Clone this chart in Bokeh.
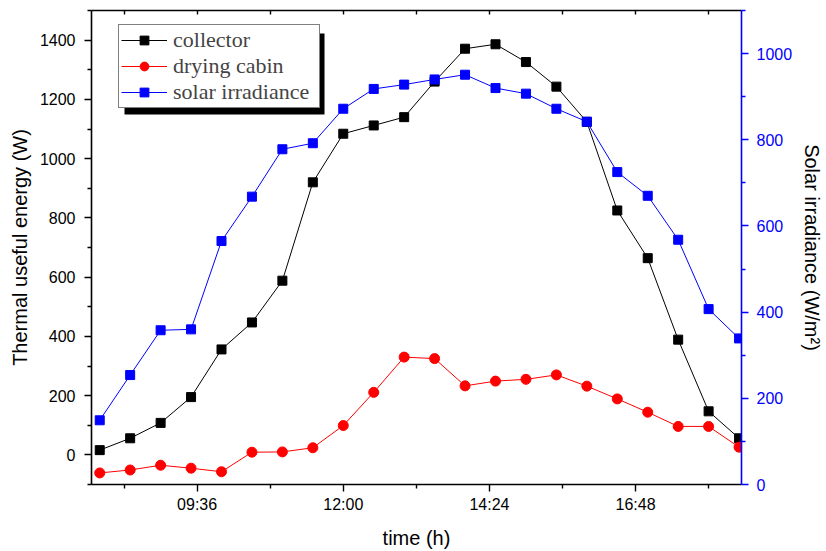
from bokeh.plotting import figure
from bokeh.models import (Range1d, LinearAxis, FixedTicker, Legend, LegendItem,
                          BoxAnnotation, CustomJSTickFormatter)
from bokeh.embed import file_html
from bokeh.resources import INLINE

# ---- data ----
time_h = [8.0, 8.5, 9.0, 9.5, 10.0, 10.5, 11.0, 11.5, 12.0, 12.5, 13.0,
          13.5, 14.0, 14.5, 15.0, 15.5, 16.0, 16.5, 17.0, 17.5, 18.0, 18.5]
collector = [16, 56, 108, 195, 356, 447, 588, 920, 1084, 1112, 1140,
             1260, 1371, 1386, 1326, 1243, 1124, 825, 664, 389, 147, 56]
drying_cabin = [-61, -51, -35, -45, -57, 9, 10, 24, 99, 211, 330,
                325, 233, 249, 255, 270, 232, 189, 144, 96, 96, 26]
solar_irradiance = [149, 254, 358, 360, 565, 668, 778, 792, 872, 918, 928,
                    940, 951, 920, 907, 872, 842, 725, 670, 568, 407, 339]

x_tick_values = [9.6, 12.0, 14.4, 16.8]
x_tick_labels = ["09:36", "12:00", "14:24", "16:48"]
x_minor_ticks = [8.4, 10.8, 13.2, 15.6, 18.0]
left_ticks = [0, 200, 400, 600, 800, 1000, 1200, 1400]
left_minor = [-100, 100, 300, 500, 700, 900, 1100, 1300, 1500]
right_ticks = [0, 200, 400, 600, 800, 1000]
right_minor = [100, 300, 500, 700, 900, 1100]

BLACK, RED, BLUE = "#000000", "#ff0000", "#0000ff"
SANS = "Liberation Sans"
SERIF = "Liberation Serif"

p = figure(width=826, height=551, output_backend="svg", toolbar_location=None,
           x_range=Range1d(7.865, 18.54), y_range=Range1d(-100, 1500),
           min_border_left=91, min_border_right=83, min_border_top=10,
           min_border_bottom=65)
p.extra_y_ranges = {"irr": Range1d(0, 1100)}
p.xgrid.visible = False
p.ygrid.visible = False
p.outline_line_color = None
p.background_fill_color = "white"
p.border_fill_color = "white"

def style_axis(ax, color):
    ax.axis_line_color = color
    ax.axis_line_width = 1.6
    ax.major_tick_line_color = color
    ax.minor_tick_line_color = color
    ax.major_tick_line_width = 1.4
    ax.minor_tick_line_width = 1.4
    ax.major_tick_in = 0
    ax.major_tick_out = 7
    ax.minor_tick_in = 0
    ax.minor_tick_out = 4
    ax.major_label_text_font = SANS
    ax.major_label_text_font_size = "16px"
    ax.major_label_text_color = color
    ax.axis_label_text_font = SANS
    ax.axis_label_text_font_size = "20px"
    ax.axis_label_text_font_style = "normal"
    ax.axis_label_text_color = BLACK

# bottom axis
xa = p.xaxis[0]
style_axis(xa, BLACK)
xa.ticker = FixedTicker(ticks=x_tick_values, minor_ticks=x_minor_ticks)
xa.major_label_overrides = dict(zip(x_tick_values, x_tick_labels))
xa.major_label_standoff = 4
xa.axis_label = "time (h)"
xa.axis_label_standoff = 11

# left axis
ya = p.yaxis[0]
style_axis(ya, BLACK)
ya.ticker = FixedTicker(ticks=left_ticks, minor_ticks=left_minor)
ya.major_label_standoff = 9
ya.axis_label = "Thermal useful energy (W)"
ya.axis_label_standoff = 6

# right axis
ra = LinearAxis(y_range_name="irr")
style_axis(ra, BLUE)
ra.ticker = FixedTicker(ticks=right_ticks, minor_ticks=right_minor)
ra.major_label_standoff = 8
ra.axis_label = "Solar irradiance (W/m²)"
ra.axis_label_standoff = 6
p.add_layout(ra, "right")

# top axis (ticks only)
ta = LinearAxis()
style_axis(ta, BLACK)
ta.ticker = FixedTicker(ticks=x_tick_values, minor_ticks=x_minor_ticks)
ta.major_tick_in = 4
ta.major_tick_out = 0
ta.minor_tick_in = 4
ta.minor_tick_out = 0
ta.formatter = CustomJSTickFormatter(code="return ''")
ta.major_label_text_font_size = "0px"
ta.major_label_standoff = 0
p.add_layout(ta, "above")

# series
l1 = p.line(time_h, collector, line_color=BLACK, line_width=1)
s1 = p.scatter(time_h, collector, marker="square", size=9, fill_color=BLACK, line_color=BLACK)
l2 = p.line(time_h, drying_cabin, line_color=RED, line_width=1)
s2 = p.scatter(time_h, drying_cabin, marker="circle", size=10, fill_color=RED, line_color=RED)
l3 = p.line(time_h, solar_irradiance, line_color=BLUE, line_width=1, y_range_name="irr")
s3 = p.scatter(time_h, solar_irradiance, marker="square", size=9, fill_color=BLUE,
               line_color=BLUE, y_range_name="irr")

# legend shadow (frame-relative screen pixels)
shadow = BoxAnnotation(left=33, right=233, top=451, bottom=370,
                       left_units="screen", right_units="screen",
                       top_units="screen", bottom_units="screen",
                       fill_color=BLACK, fill_alpha=1.0, line_color=None)
p.add_layout(shadow, "center")

legend = Legend(items=[LegendItem(label="collector", renderers=[l1, s1]),
                       LegendItem(label="drying cabin", renderers=[l2, s2]),
                       LegendItem(label="solar irradiance", renderers=[l3, s3])],
                location=(27, 376))
legend.label_text_font = SERIF
legend.label_text_font_size = "22px"
legend.label_height = 22
legend.glyph_height = 22
legend.glyph_width = 46
legend.label_width = 144
legend.label_standoff = 6
legend.spacing = 0
legend.padding = 2
legend.margin = 0
legend.border_line_color = BLACK
legend.border_line_width = 1
legend.background_fill_color = "white"
legend.background_fill_alpha = 1.0
p.add_layout(legend, "center")

open("out.html", "w").write(file_html(p, INLINE))
